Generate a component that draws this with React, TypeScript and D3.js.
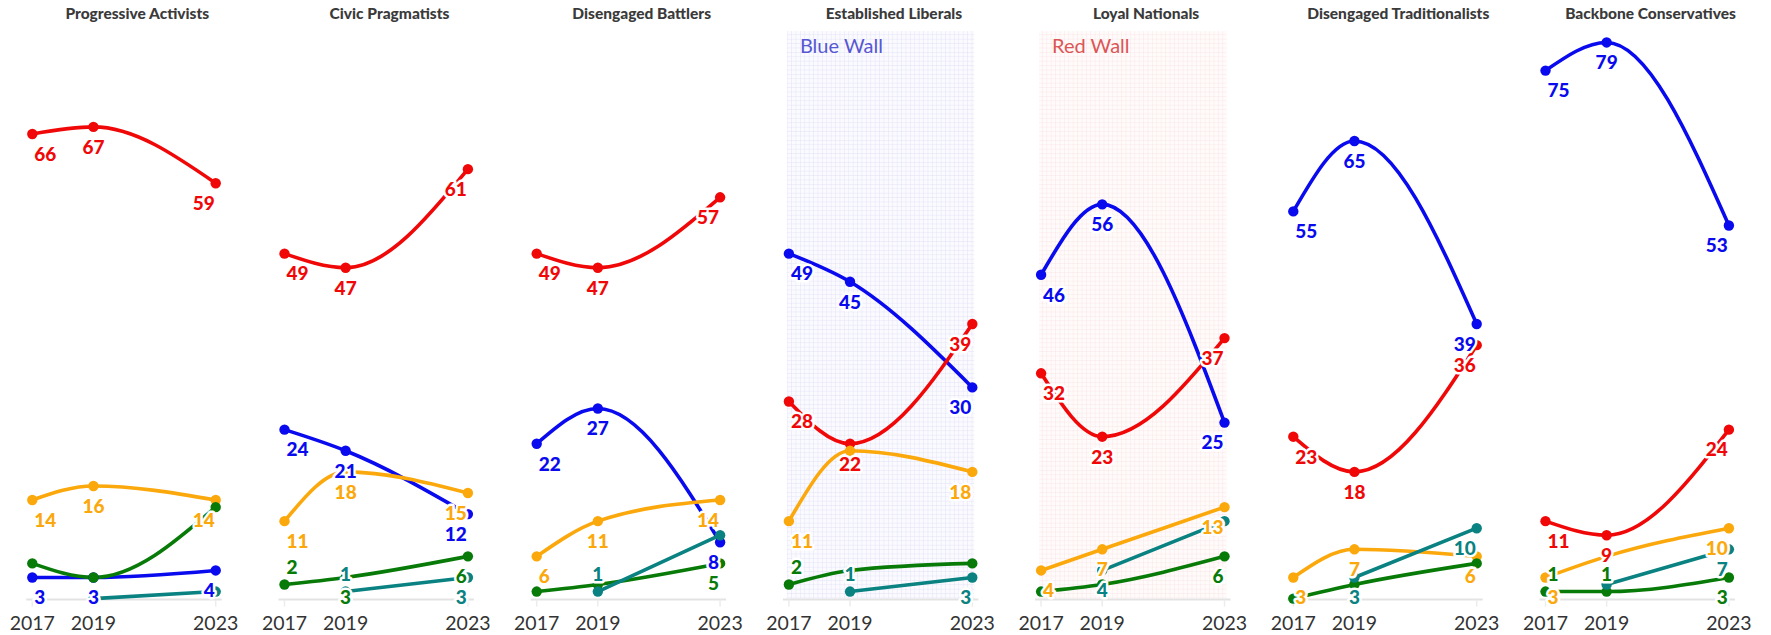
import React from 'react';
import * as d3 from 'd3';

// ---------- data ----------
const YEARS = [2017, 2019, 2023];
const YEAR_LABELS = ['2017', '2019', '2023'];
const SEGMENTS = [
  'Progressive Activists',
  'Civic Pragmatists',
  'Disengaged Battlers',
  'Established Liberals',
  'Loyal Nationals',
  'Disengaged Traditionalists',
  'Backbone Conservatives',
];
// vote share per segment, in YEARS order (null = not standing)
const CON = [[3, 3, 4], [24, 21, 12], [22, 27, 8], [49, 45, 30], [46, 56, 25], [55, 65, 39], [75, 79, 53]];
const LAB = [[66, 67, 59], [49, 47, 61], [49, 47, 57], [28, 22, 39], [32, 23, 37], [23, 18, 36], [11, 9, 24]];
const LD = [[14, 16, 14], [11, 18, 15], [6, 11, 14], [11, 21, 18], [4, 7, 13], [3, 7, 6], [3, 6, 10]];
const GRN = [[5, 3, 13], [2, 3, 6], [1, 2, 5], [2, 4, 5], [1, 2, 6], [0, 2, 5], [1, 1, 3]];
const REF = [[null, 0, 1], [null, 1, 3], [null, 1, 9], [null, 1, 3], [null, 4, 11], [null, 3, 10], [null, 2, 7]];

const WALLS = [
  { segment: 3, label: 'Blue Wall' },
  { segment: 4, label: 'Red Wall' },
];

// ---------- label placement (b = below, a = above, n = hidden) ----------
const LABEL_PLACEMENT: Record<string, string[]> = {
  con: ['bbb', 'bbb', 'bbb', 'bbb', 'bbb', 'bbb', 'bbb'],
  lab: ['bbb', 'bbb', 'bbb', 'bbb', 'bbb', 'bbb', 'bbb'],
  ld: ['bbb', 'bbb', 'bbb', 'bnb', 'bbb', 'bbb', 'bnb'],
  grn: ['nnn', 'abb', 'nnb', 'ann', 'nnb', 'nnn', 'aab'],
  ref: ['nnn', 'nab', 'nan', 'nab', 'nbn', 'nbb', 'nnb'],
};

const PARTIES = [
  { key: 'con', color: '#0a0aee', values: CON },
  { key: 'lab', color: '#f00808', values: LAB },
  { key: 'ld', color: '#fba80c', values: LD },
  { key: 'grn', color: '#087a08', values: GRN },
  { key: 'ref', color: '#0a8282', values: REF },
];

// ---------- layout ----------
const W = 1771;
const H = 635;
const PANEL_X0 = 32.3;
const PANEL_STEP = 252.2;
const PLOT_W = 183.4;
const Y0 = 598.6;
const PX_PER_UNIT = 7.04;
const LABEL_FONT = 'Lato, "Open Sans", sans-serif';

const y = d3.scaleLinear().domain([0, 80]).range([Y0, Y0 - 80 * PX_PER_UNIT]);

function Panel({ i }: { i: number }) {
  const x0 = PANEL_X0 + PANEL_STEP * i;
  const x = d3.scaleLinear().domain([2017, 2023]).range([x0, x0 + PLOT_W]);
  const wall = WALLS.find((w) => w.segment === i);
  const line = d3
    .line<{ year: number; v: number | null }>()
    .defined((d) => d.v !== null)
    .x((d) => x(d.year))
    .y((d) => y(d.v as number))
    .curve(d3.curveMonotoneX);

  const series = PARTIES.map((p) => ({
    ...p,
    pts: YEARS.map((yr, j) => ({ year: yr, v: p.values[i][j] as number | null, j })),
  }));

  return (
    <g>
      {wall && (
        <g>
          <rect
            x={x(2017) - 2}
            y={31}
            width={PLOT_W + 4}
            height={Y0 - 31}
            fill={`url(#grid-${wall.label === 'Blue Wall' ? 'blue' : 'red'})`}
          />
          <text
            x={x(2017) + 11}
            y={53}
            fontFamily={LABEL_FONT}
            fontSize={20}
            fill={wall.label === 'Blue Wall' ? '#5757d2' : '#dc5656'}
          >
            {wall.label}
          </text>
        </g>
      )}
      <text
        x={x0 + 105}
        y={19}
        textAnchor="middle"
        fontFamily={LABEL_FONT}
        fontWeight={900}
        fontSize={15.5}
        fill="#3a3a3a"
      >
        {SEGMENTS[i]}
      </text>
      {/* axis */}
      <line x1={x(2017) - 6} x2={x(2023) + 6} y1={Y0 + 1} y2={Y0 + 1} stroke="#e3e3e3" strokeWidth={2} />
      {YEARS.map((yr) => (
        <line key={yr} x1={x(yr)} x2={x(yr)} y1={Y0 + 1} y2={Y0 + 8} stroke="#ececec" strokeWidth={1.5} />
      ))}
      {YEARS.map((yr, j) => (
        <text
          key={yr}
          x={x(yr)}
          y={630}
          textAnchor="middle"
          fontFamily={LABEL_FONT}
          fontSize={19.5}
          fill="#333"
        >
          {YEAR_LABELS[j]}
        </text>
      ))}
      {/* lines */}
      {series.map((s) => (
        <path
          key={s.key}
          d={line(s.pts) || ''}
          fill="none"
          stroke={s.color}
          strokeWidth={3.6}
          strokeLinecap="round"
        />
      ))}
      {/* dots */}
      {series.map((s) =>
        s.pts
          .filter((p) => p.v !== null)
          .map((p) => <circle key={s.key + p.j} cx={x(p.year)} cy={y(p.v as number)} r={5.2} fill={s.color} />)
      )}
      {/* labels */}
      {series.map((s) =>
        s.pts
          .filter((p) => p.v !== null)
          .map((p) => {
            const code = LABEL_PLACEMENT[s.key][i][p.j];
            if (code === 'n') return null;
            const anchor = p.j === 0 ? 'start' : p.j === 2 ? 'end' : 'middle';
            const dx = p.j === 0 ? 2 : p.j === 2 ? -1 : 0;
            const cy = y(p.v as number) + (code === 'b' ? 20 : -17);
            return (
              <text
                key={'l' + s.key + p.j}
                x={x(p.year) + dx}
                y={cy}
                dy="0.36em"
                textAnchor={anchor}
                fontFamily={LABEL_FONT}
                fontWeight={900}
                fontSize={19}
                fill={s.color}
                stroke="#fff"
                strokeWidth={5}
                strokeLinejoin="round"
                paintOrder="stroke"
              >
                {p.v}
              </text>
            );
          })
      )}
    </g>
  );
}

export default function App() {
  return (
    <svg
      width={W}
      height={H}
      viewBox={`0 0 ${W} ${H}`}
      style={{ position: 'absolute', left: 0, top: 0, background: '#fff' }}
    >
      <defs>
        <pattern id="grid-blue" width={4.4} height={4.4} patternUnits="userSpaceOnUse">
          <rect width={4.4} height={4.4} fill="#fbfbff" />
          <path d="M4.4 0 V4.4 M0 4.4 H4.4" stroke="#dcdcf6" strokeWidth={0.8} />
        </pattern>
        <pattern id="grid-red" width={4.4} height={4.4} patternUnits="userSpaceOnUse">
          <rect width={4.4} height={4.4} fill="#fffbfb" />
          <path d="M4.4 0 V4.4 M0 4.4 H4.4" stroke="#f7e0e0" strokeWidth={0.8} />
        </pattern>
      </defs>
      <rect width={W} height={H} fill="#fff" />
      {SEGMENTS.map((_, i) => (
        <Panel key={i} i={i} />
      ))}
    </svg>
  );
}
